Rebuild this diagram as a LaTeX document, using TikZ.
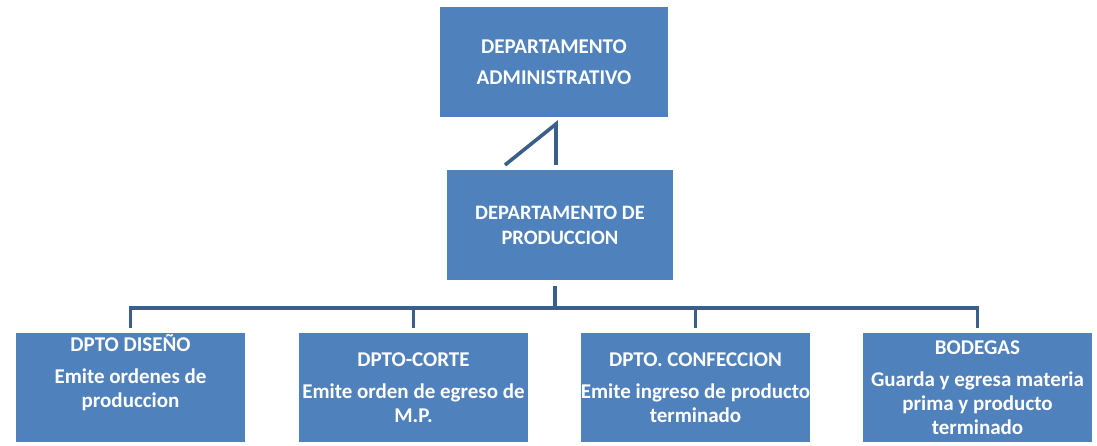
\documentclass[tikz,border=0pt]{standalone}
\usepackage{fontspec}
\setmainfont{Carlito}
\definecolor{cajaazul}{RGB}{79,129,189}
\definecolor{lineaazul}{RGB}{58,95,139}
\newcommand{\dpto}[3][-5pt]{\raisebox{#1}[0pt][0pt]{\makebox[0pt]{\parbox{260pt}{\centering #2\\[8pt]#3}}}}

\begin{document}
\begin{tikzpicture}[x=1pt, y=-1pt,
    caja/.style={fill=cajaazul, text=white, align=center, inner sep=0pt,
      minimum width=228pt, minimum height=110pt,
      font=\fontsize{21}{24}\selectfont\bfseries},
    hoja/.style={caja, minimum width=229pt, minimum height=109pt},
    conector/.style={draw=lineaazul, line width=3.6pt}]
    \useasboundingbox (0,0) rectangle (1097,446);

    % top levels
    \node[caja] (admin) at (554,62) {DEPARTAMENTO\\[7pt]ADMINISTRATIVO};
    \node[caja, minimum width=226pt, font=\fontsize{20.5}{24}\selectfont\bfseries] (prod) at (560,225) {DEPARTAMENTO DE\\[1pt]PRODUCCION};

    % departments
    \node[hoja] (disenio) at (130.5,387.5) {\dpto[10pt]{DPTO DISEÑO}{Emite ordenes de\\produccion}};
    \node[hoja] (corte) at (413.5,387.5) {\dpto{DPTO-CORTE}{Emite orden de egreso de\\M.P.}};
    \node[hoja] (confec) at (695.5,387.5) {\dpto{DPTO. CONFECCION}{Emite ingreso de producto\\terminado}};
    \node[hoja] (bodega) at (977.5,387.5) {\dpto{BODEGAS}{Guarda y egresa materia\\prima y producto\\terminado}};

    % link admin - prod
    \coordinate (d1) at (505,165);
    \coordinate (d2) at (556,124);
    \draw[conector] (d1) -- (d2) -- (d2 |- d1);

    % bus
    \coordinate (bus) at (555,308);
    \draw[conector] ([xshift=-5pt,yshift=-6pt]prod.south) -- (bus);
    \draw[conector] ([yshift=5pt]disenio.north) |- (bus) -| ([yshift=5pt]bodega.north);
    \foreach \n in {corte,confec}
      \draw[conector] ([yshift=5pt]\n.north) -- (\n.north |- bus);

\end{tikzpicture}
\end{document}
